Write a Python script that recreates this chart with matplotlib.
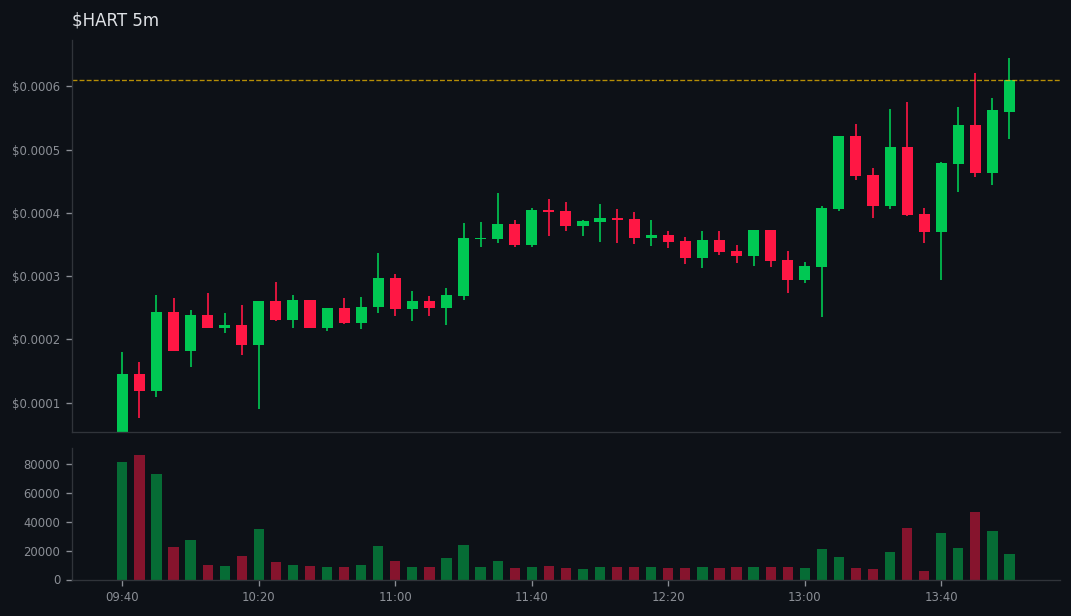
import matplotlib
matplotlib.use("Agg")
import matplotlib.pyplot as plt

# prices in units of 1e-4 dollars
opens = [0.50, 1.45, 1.19, 2.43, 1.82, 2.385, 2.185, 2.227, 1.916, 2.606, 2.306, 2.62, 2.185, 2.495,
         2.263, 2.51, 2.97, 2.485, 2.606, 2.50, 2.69, 3.59, 3.585, 3.83, 3.49, 4.04, 4.03, 3.79,
         3.85, 3.92, 3.90, 3.60, 3.65, 3.55, 3.285, 3.57, 3.40, 3.32, 3.727, 3.25, 2.94, 3.14,
         4.06, 5.21, 4.595, 4.11, 5.04, 3.98, 3.695, 4.77, 5.385, 4.63, 5.60]
closes = [1.453, 1.19, 2.43, 1.82, 2.385, 2.185, 2.227, 1.916, 2.606, 2.306, 2.62, 2.185, 2.495, 2.263,
          2.51, 2.97, 2.485, 2.606, 2.50, 2.696, 3.60, 3.60, 3.83, 3.49, 4.04, 4.01, 3.79, 3.87,
          3.92, 3.885, 3.60, 3.65, 3.54, 3.285, 3.57, 3.38, 3.32, 3.73, 3.24, 2.94, 3.158, 4.07,
          5.21, 4.58, 4.11, 5.04, 3.96, 3.695, 4.785, 5.385, 4.63, 5.62, 6.10]
highs = [1.80, 1.643, 2.70, 2.653, 2.46, 2.73, 2.416, 2.54, 2.606, 2.906, 2.70, 2.62, 2.495, 2.653,
         2.67, 3.36, 3.04, 2.76, 2.68, 2.805, 3.84, 3.85, 4.31, 3.885, 4.07, 4.216, 4.17, 3.885,
         4.14, 4.06, 4.01, 3.885, 3.71, 3.62, 3.71, 3.71, 3.49, 3.73, 3.727, 3.395, 3.22, 4.10,
         5.21, 5.40, 4.71, 5.64, 5.75, 4.07, 4.80, 5.67, 6.21, 5.81, 6.44]
lows = [0.50, 0.758, 1.09, 1.82, 1.56, 2.185, 2.10, 1.75, 0.90, 2.29, 2.185, 2.185, 2.13, 2.25,
        2.16, 2.42, 2.37, 2.29, 2.37, 2.23, 2.625, 3.46, 3.52, 3.46, 3.46, 3.63, 3.71, 3.63,
        3.54, 3.52, 3.51, 3.47, 3.44, 3.19, 3.13, 3.33, 3.21, 3.16, 3.14, 2.73, 2.89, 2.35,
        4.03, 4.52, 3.915, 4.06, 3.95, 3.52, 2.94, 4.33, 4.56, 4.44, 5.17]
volumes = [81600, 86500, 73300, 22500, 27400, 10000, 9300, 16200, 35000, 12100, 10000, 9300, 8600, 9000,
           10400, 23000, 12500, 9000, 8350, 14600, 24300, 9000, 12500, 7650, 8350, 9700, 7650, 7000,
           8350, 9000, 8350, 8350, 7650, 7650, 9000, 7650, 9000, 9000, 8350, 9000, 7650, 20900,
           15300, 7650, 7000, 18800, 35500, 5600, 32000, 21600, 46600, 33400, 17400]
tick_labels = ["09:40", "10:20", "11:00", "11:40", "12:20", "13:00", "13:40"]
last_price = 6.10

BG = "#0d1117"
GREEN = "#00c853"
RED = "#ff1744"
GREY = "#8b8f96"
SPINE = "#30343a"
SCALE = 1e-4

fig = plt.figure(figsize=(1071 / 120, 616 / 120), dpi=120, facecolor=BG)
ax = fig.add_axes([72 / 1071, 1 - 432 / 616, (1060 - 72) / 1071, (432 - 40) / 616], facecolor=BG)
vax = fig.add_axes([72 / 1071, 1 - 579.5 / 616, (1060 - 72) / 1071, (579.5 - 448) / 616],
                   facecolor=BG, sharex=ax)

xs = list(range(len(opens)))
colours = [GREEN if c >= o else RED for o, c in zip(opens, closes)]

ax.vlines(xs, [v * SCALE for v in lows], [v * SCALE for v in highs], colors=colours, linewidth=1.0)
ax.bar(xs, [abs(c - o) * SCALE for o, c in zip(opens, closes)],
       bottom=[min(o, c) * SCALE for o, c in zip(opens, closes)], width=0.65, color=colours)
ax.axhline(last_price * SCALE, color="#ffc400", linestyle="--", linewidth=0.8, alpha=0.7)
ax.set_ylim(0.537e-4, 6.73e-4)
ax.set_xlim(-2.95, 54.96)
ax.set_yticks([v * SCALE for v in range(1, 7)])
ax.set_yticklabels([f"${v * SCALE:.4f}" for v in range(1, 7)])
ax.set_title("$HART 5m", loc="left", color="#dfe2e6", fontsize=10, pad=8.6)

vax.bar(xs, volumes, width=0.6, color=colours, alpha=0.5)
vax.set_ylim(0, 91300)
vax.set_yticks([0, 20000, 40000, 60000, 80000])
vax.set_xticks(xs[::8])
vax.set_xticklabels(tick_labels)

for a in (ax, vax):
    a.spines["top"].set_visible(False)
    a.spines["right"].set_visible(False)
    a.spines["left"].set_color(SPINE)
    a.spines["bottom"].set_color(SPINE)
    a.tick_params(colors=GREY, labelsize=7)
ax.tick_params(axis="x", which="both", bottom=False, labelbottom=False)

fig.savefig("out.png", dpi=120, facecolor=BG)
